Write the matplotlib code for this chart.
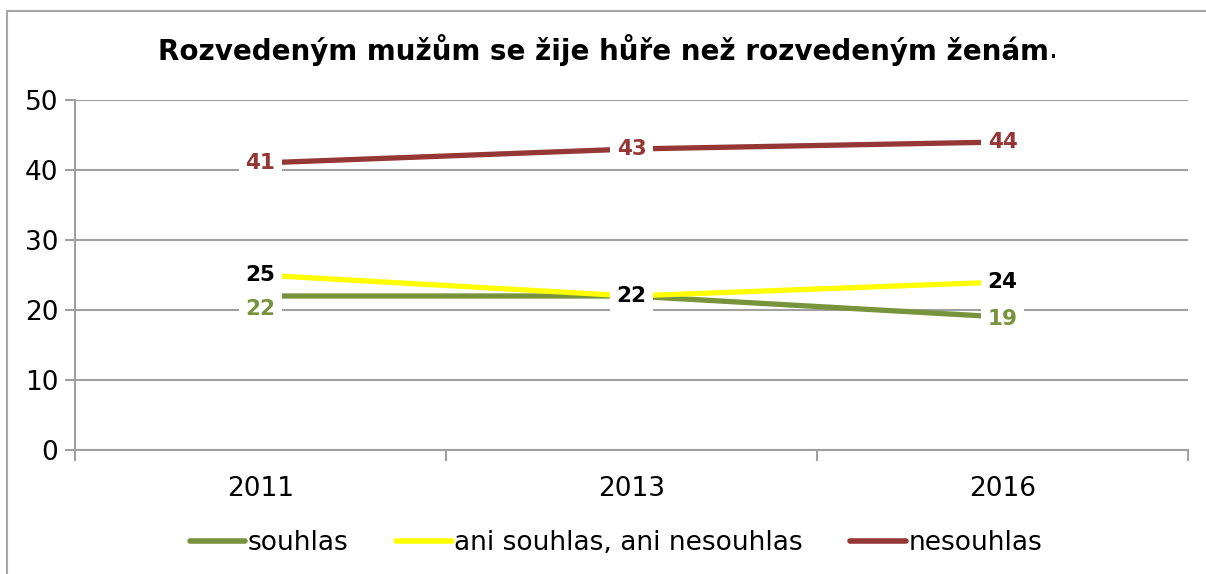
import numpy as np
import matplotlib.pyplot as plt

years = ['2011', '2013', '2016']
souhlas = [22, 22, 19]
ani = [25, 22, 24]
nesouhlas = [41, 43, 44]
series_names = ['souhlas', 'ani souhlas, ani nesouhlas', 'nesouhlas']
line_colors = ['#77933C', '#FFFF00', '#953735']
label_colors = ['#77933C', '#000000', '#953735']
yticks = [0, 10, 20, 30, 40, 50]

plt.rcParams['font.family'] = ['DejaVu Sans']

fig = plt.figure(figsize=(12.06, 5.74), dpi=100)
ax = fig.add_axes([75 / 1206, 1 - 450 / 574, (1188 - 75) / 1206, 350 / 574])

x = np.arange(len(years))
grid_c = '#A0A0A0'

for vals, name, c in zip([souhlas, ani, nesouhlas], series_names, line_colors):
    ax.plot(x, vals, color=c, lw=3.8, label=name, solid_capstyle='butt', zorder=3)

# data labels (white boxes, centred on points)
offsets = {
    0: [(0, -1.9), None, (0, -0.3)],   # souhlas; middle label hidden under the other one
    1: [(0, 0), (0, 0), (0, 0)],
    2: [(0, 0), (0, 0), (0, 0)],
}
for si, vals in enumerate([souhlas, ani, nesouhlas]):
    for i, v in enumerate(vals):
        off = offsets[si][i]
        if off is None:
            continue
        ax.text(x[i] + off[0], v + off[1], str(v), ha='center', va='center',
                fontsize=15.5, fontweight='bold', color=label_colors[si], zorder=5,
                bbox=dict(facecolor='white', edgecolor='none', pad=5))

ax.set_xlim(-0.5, 2.5)
ax.set_ylim(0, 50)
ax.set_yticks(yticks)
ax.set_xticks(x)
ax.set_xticklabels(years)
ax.set_xticks([-0.5, 0.5, 1.5, 2.5], minor=True)
ax.tick_params(axis='x', which='major', length=0, pad=19, labelsize=19)
ax.tick_params(axis='x', which='minor', length=8, width=1.5, color=grid_c)
ax.tick_params(axis='y', length=7, width=1.5, color=grid_c, labelsize=19, pad=5)
ax.yaxis.grid(True, color=grid_c, lw=1.5)
ax.set_axisbelow(True)
for s in ['top', 'right']:
    ax.spines[s].set_visible(False)
for s in ['left', 'bottom']:
    ax.spines[s].set_color(grid_c)
    ax.spines[s].set_linewidth(1.5)

# title: bold text with a plain full stop
t = fig.text(0.5, 1 - 50 / 574, 'Rozvedeným mužům se žije hůře než rozvedeným ženám',
             ha='center', va='center', fontsize=20, fontweight='bold')
fig.canvas.draw()
bb = t.get_window_extent()
fig.text(bb.x1 / fig.bbox.width, 1 - 50 / 574, '.', ha='left', va='center', fontsize=20)

leg = fig.legend(loc='center', bbox_to_anchor=(0.5 + 13 / 1206, 1 - 543 / 574), ncol=3,
                 frameon=False, fontsize=19, handlelength=2.1, handletextpad=0.1,
                 columnspacing=1.8)
for h in leg.get_lines():
    h.set_linewidth(4)
    h.set_solid_capstyle('round')

# outer chart frame (left and top)
fig.add_artist(plt.Line2D([7 / 1206, 7 / 1206], [0, 1 - 11 / 574], color='#A6A6A6', lw=1.5))
fig.add_artist(plt.Line2D([7 / 1206, 1], [1 - 11 / 574, 1 - 11 / 574], color='#A6A6A6', lw=1.5))

fig.savefig('out.png', dpi=100)
